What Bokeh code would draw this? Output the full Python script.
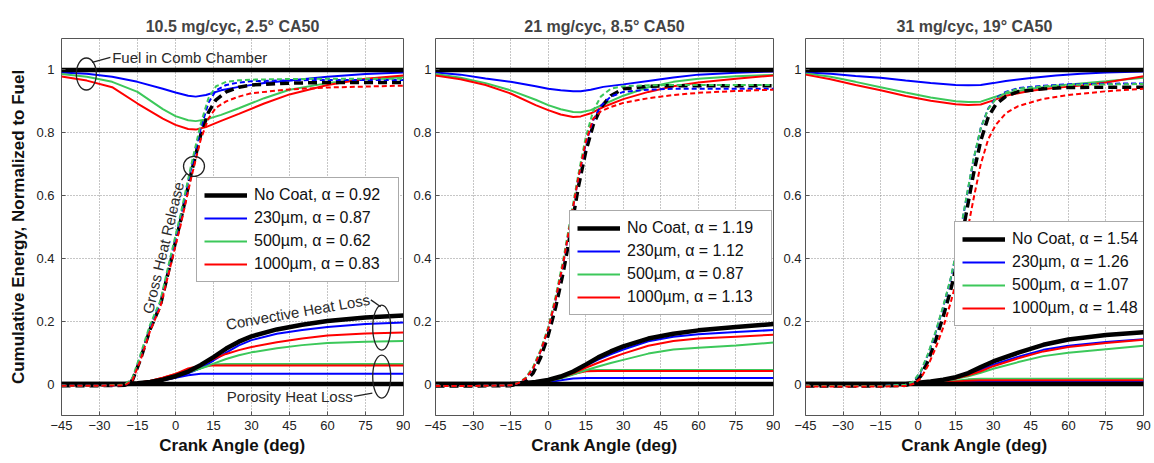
from bokeh.plotting import figure
from bokeh.layouts import row
from bokeh.models import Range1d, Legend, LegendItem, FixedTicker
from bokeh.core.properties import value
from bokeh.embed import file_html
from bokeh.resources import INLINE

FONT = "Liberation Sans"
C_NOCOAT = "#000000"
C_230 = "#0000FF"
C_500 = "#3CC85A"
C_1000 = "#FF0000"
CASE_COLORS = [C_NOCOAT, C_230, C_500, C_1000]

TITLES = ["10.5 mg/cyc, 2.5° CA50", "21 mg/cyc, 8.5° CA50", "31 mg/cyc, 19° CA50"]
X_TICKS = [-45, -30, -15, 0, 15, 30, 45, 60, 75, 90]
Y_TICKS = [0, 0.2, 0.4, 0.6, 0.8, 1]
Y_TICK_LABELS = ["0", "0.2", "0.4", "0.6", "0.8", "1"]
X_LABEL = "Crank Angle (deg)"
Y_LABEL = "Cumulative Energy, Normalized to Fuel"

LEGEND_P1 = ["No Coat, α = 0.92", "230µm, α = 0.87", "500µm, α = 0.62", "1000µm, α = 0.83"]
LEGEND_P2 = ["No Coat, α = 1.19", "230µm, α = 1.12", "500µm, α = 0.87", "1000µm, α = 1.13"]
LEGEND_P3 = ["No Coat, α = 1.54", "230µm, α = 1.26", "500µm, α = 1.07", "1000µm, α = 1.48"]

# fuel in combustion chamber, no coat
FUEL_CA = [-45, 90]
FUEL_NOCOAT = [1, 1]

# ---------------- Panel 1 ----------------
P1_GHR_CA = [-45, -30, -20, -17, -14, -10, -6, -2, 2, 6, 10, 13, 16, 20, 25, 30, 45, 60, 75, 90]
P1_GHR_NOCOAT = [-0.005, -0.005, -0.004, 0.012, 0.075, 0.175, 0.25, 0.385, 0.52, 0.665, 0.795, 0.865, 0.905, 0.93, 0.945, 0.952, 0.958, 0.96, 0.96, 0.96]
P1_GHR_230 = [-0.005, -0.005, -0.003, 0.016, 0.082, 0.182, 0.258, 0.395, 0.53, 0.68, 0.815, 0.895, 0.935, 0.952, 0.96, 0.964, 0.967, 0.968, 0.968, 0.968]
P1_GHR_500 = [-0.005, -0.005, -0.002, 0.02, 0.09, 0.19, 0.265, 0.405, 0.54, 0.69, 0.83, 0.91, 0.948, 0.962, 0.967, 0.969, 0.971, 0.972, 0.972, 0.972]
P1_GHR_1000 = [-0.005, -0.005, -0.004, 0.012, 0.072, 0.17, 0.245, 0.375, 0.505, 0.65, 0.78, 0.845, 0.88, 0.9, 0.915, 0.926, 0.938, 0.944, 0.947, 0.95]

P1_TOP_CA = [-45, -35, -25, -15, -5, 0, 5, 8, 12, 18, 25, 35, 45, 60, 75, 90]
P1_TOP_230 = [0.992, 0.988, 0.978, 0.962, 0.94, 0.928, 0.918, 0.915, 0.92, 0.935, 0.946, 0.958, 0.966, 0.978, 0.987, 0.992]
P1_TOP_500 = [0.987, 0.978, 0.962, 0.93, 0.875, 0.853, 0.84, 0.837, 0.842, 0.857, 0.878, 0.91, 0.937, 0.958, 0.97, 0.977]
P1_TOP_1000 = [0.979, 0.966, 0.945, 0.893, 0.845, 0.825, 0.812, 0.81, 0.818, 0.838, 0.86, 0.893, 0.922, 0.952, 0.972, 0.982]

P1_CONV_CA = [-45, -20, -15, -10, -5, 0, 5, 10, 15, 20, 25, 30, 40, 50, 60, 75, 90]
P1_CONV_NOCOAT = [0, 0, 0.003, 0.007, 0.014, 0.025, 0.04, 0.061, 0.086, 0.113, 0.135, 0.152, 0.174, 0.189, 0.201, 0.212, 0.218]
P1_CONV_230 = [0, 0, 0.003, 0.006, 0.012, 0.021, 0.034, 0.051, 0.075, 0.1, 0.123, 0.14, 0.16, 0.172, 0.182, 0.191, 0.196]
P1_CONV_500 = [0, 0, 0.003, 0.008, 0.016, 0.026, 0.037, 0.05, 0.065, 0.08, 0.092, 0.101, 0.114, 0.124, 0.131, 0.135, 0.137]
P1_CONV_1000 = [0, 0, 0.004, 0.01, 0.02, 0.032, 0.045, 0.06, 0.08, 0.096, 0.108, 0.118, 0.133, 0.145, 0.155, 0.161, 0.164]

P1_POR_CA = [-45, -20, -15, -10, -5, 0, 5, 10, 15, 20, 90]
P1_POR_NOCOAT = [0, 0, 0, 0, 0, 0, 0, 0, 0, 0, 0]
P1_POR_230 = [0, 0, 0.002, 0.006, 0.012, 0.02, 0.028, 0.033, 0.033, 0.033, 0.033]
P1_POR_500 = [0, 0, 0.003, 0.008, 0.016, 0.026, 0.038, 0.05, 0.062, 0.064, 0.064]
P1_POR_1000 = [0, 0, 0.004, 0.01, 0.02, 0.032, 0.05, 0.059, 0.059, 0.059, 0.059]

# ---------------- Panel 2 ----------------
P2_GHR_CA = [-45, -30, -15, -12, -9, -6, -3, 0, 3, 6, 9, 12, 15, 18, 21, 25, 30, 40, 50, 60, 75, 90]
P2_GHR_NOCOAT = [-0.006, -0.006, -0.005, 0.0, 0.01, 0.035, 0.085, 0.155, 0.245, 0.355, 0.485, 0.625, 0.74, 0.825, 0.88, 0.918, 0.94, 0.948, 0.95, 0.95, 0.95, 0.95]
P2_GHR_230 = [-0.006, -0.006, -0.004, 0.003, 0.018, 0.05, 0.105, 0.175, 0.27, 0.385, 0.52, 0.655, 0.765, 0.84, 0.885, 0.915, 0.93, 0.937, 0.94, 0.94, 0.94, 0.94]
P2_GHR_500 = [-0.006, -0.006, -0.004, 0.004, 0.02, 0.055, 0.11, 0.18, 0.28, 0.395, 0.53, 0.665, 0.785, 0.87, 0.915, 0.94, 0.948, 0.951, 0.952, 0.952, 0.952, 0.952]
P2_GHR_1000 = [-0.006, -0.006, -0.004, 0.003, 0.018, 0.05, 0.105, 0.175, 0.27, 0.385, 0.52, 0.655, 0.77, 0.845, 0.868, 0.882, 0.895, 0.91, 0.92, 0.927, 0.933, 0.937]

P2_TOP_CA = [-45, -35, -25, -15, -5, 0, 5, 10, 13, 17, 22, 30, 40, 50, 60, 75, 90]
P2_TOP_230 = [0.992, 0.985, 0.973, 0.962, 0.948, 0.94, 0.935, 0.932, 0.932, 0.937, 0.946, 0.954, 0.965, 0.976, 0.985, 0.991, 0.995]
P2_TOP_500 = [0.987, 0.975, 0.958, 0.935, 0.905, 0.888, 0.875, 0.866, 0.865, 0.872, 0.89, 0.918, 0.945, 0.962, 0.972, 0.98, 0.984]
P2_TOP_1000 = [0.982, 0.97, 0.952, 0.925, 0.888, 0.872, 0.858, 0.85, 0.852, 0.862, 0.882, 0.907, 0.93, 0.948, 0.96, 0.972, 0.982]

P2_CONV_CA = [-45, -15, -10, -5, 0, 5, 10, 15, 20, 25, 30, 40, 50, 60, 75, 90]
P2_CONV_NOCOAT = [0, 0, 0.003, 0.007, 0.013, 0.024, 0.04, 0.062, 0.085, 0.104, 0.12, 0.145, 0.16, 0.171, 0.182, 0.191]
P2_CONV_230 = [0, 0, 0.003, 0.006, 0.012, 0.022, 0.037, 0.058, 0.078, 0.095, 0.11, 0.136, 0.151, 0.159, 0.166, 0.172]
P2_CONV_500 = [0, 0, 0.003, 0.006, 0.011, 0.018, 0.03, 0.044, 0.056, 0.067, 0.077, 0.097, 0.11, 0.116, 0.123, 0.132]
P2_CONV_1000 = [0, 0, 0.003, 0.006, 0.012, 0.02, 0.034, 0.052, 0.068, 0.083, 0.097, 0.122, 0.137, 0.145, 0.151, 0.157]

P2_POR_CA = [-45, -10, -5, 0, 5, 10, 15, 20, 90]
P2_POR_NOCOAT = [0, 0, 0, 0, 0, 0, 0, 0, 0]
P2_POR_230 = [0, 0, 0.002, 0.006, 0.012, 0.018, 0.019, 0.019, 0.019]
P2_POR_500 = [0, 0, 0.003, 0.01, 0.02, 0.032, 0.043, 0.045, 0.045]
P2_POR_1000 = [0, 0, 0.003, 0.01, 0.02, 0.032, 0.041, 0.042, 0.042]

# ---------------- Panel 3 ----------------
P3_GHR_CA = [-45, -15, -5, -2, 1, 4, 7, 10, 13, 16, 19, 22, 25, 28, 31, 35, 40, 50, 60, 75, 90]
P3_GHR_NOCOAT = [-0.006, -0.006, -0.004, 0.002, 0.025, 0.075, 0.14, 0.215, 0.3, 0.4, 0.535, 0.665, 0.775, 0.85, 0.89, 0.916, 0.931, 0.94, 0.944, 0.945, 0.945]
P3_GHR_230 = [-0.006, -0.006, -0.002, 0.007, 0.038, 0.095, 0.165, 0.245, 0.335, 0.445, 0.58, 0.71, 0.815, 0.878, 0.91, 0.93, 0.942, 0.95, 0.954, 0.956, 0.957]
P3_GHR_500 = [-0.006, -0.006, -0.002, 0.008, 0.04, 0.098, 0.168, 0.248, 0.338, 0.448, 0.583, 0.712, 0.815, 0.876, 0.907, 0.928, 0.94, 0.948, 0.952, 0.954, 0.955]
P3_GHR_1000 = [-0.008, -0.008, -0.006, 0.0, 0.018, 0.06, 0.115, 0.18, 0.26, 0.35, 0.46, 0.585, 0.7, 0.78, 0.825, 0.862, 0.885, 0.908, 0.92, 0.932, 0.94]

P3_TOP_CA = [-45, -35, -25, -15, -5, 5, 15, 20, 25, 30, 35, 45, 55, 65, 75, 90]
P3_TOP_230 = [0.992, 0.988, 0.981, 0.975, 0.966, 0.958, 0.952, 0.951, 0.952, 0.958, 0.965, 0.974, 0.982, 0.988, 0.992, 0.995]
P3_TOP_500 = [0.989, 0.978, 0.962, 0.945, 0.928, 0.912, 0.9, 0.898, 0.899, 0.912, 0.925, 0.94, 0.95, 0.957, 0.964, 0.975]
P3_TOP_1000 = [0.985, 0.97, 0.952, 0.935, 0.917, 0.902, 0.891, 0.888, 0.89, 0.903, 0.918, 0.934, 0.943, 0.95, 0.96, 0.98]

P3_CONV_CA = [-45, -5, 0, 5, 10, 15, 20, 25, 30, 40, 50, 60, 75, 90]
P3_CONV_NOCOAT = [0, 0, 0.004, 0.008, 0.014, 0.022, 0.035, 0.054, 0.072, 0.1, 0.125, 0.142, 0.156, 0.165]
P3_CONV_230 = [0, 0, 0.003, 0.007, 0.012, 0.019, 0.03, 0.045, 0.062, 0.087, 0.109, 0.122, 0.134, 0.143]
P3_CONV_500 = [0, 0, 0.003, 0.006, 0.011, 0.017, 0.025, 0.036, 0.049, 0.07, 0.089, 0.1, 0.111, 0.122]
P3_CONV_1000 = [0, 0, 0.003, 0.007, 0.012, 0.018, 0.028, 0.041, 0.057, 0.082, 0.104, 0.118, 0.131, 0.141]

P3_POR_CA = [-45, 0, 5, 10, 15, 20, 25, 90]
P3_POR_NOCOAT = [0, 0, 0, 0, 0, 0, 0, 0]
P3_POR_230 = [0, 0, 0.002, 0.004, 0.006, 0.008, 0.008, 0.008]
P3_POR_500 = [0, 0, 0.003, 0.007, 0.011, 0.015, 0.017, 0.017]
P3_POR_1000 = [0, 0, 0.002, 0.005, 0.008, 0.011, 0.012, 0.012]

# ---------------- Annotations (panel 1) ----------------
ANN_TEXT = ["Fuel in Comb Chamber", "Gross Heat Release", "Convective Heat Loss", "Porosity Heat Loss"]
ANN_TEXT_X = [-25.0, -4.9, 48.3, 45.1]
ANN_TEXT_Y = [1.038, 0.434, 0.23, -0.039]
ANN_TEXT_ANGLE_DEG = [0, 76.5, 10, 0]
ANN_TEXT_ALIGN = ["left", "center", "center", "center"]
ANN_ELL_X = [-35.2, 7.3, 81.4, 81.4]
ANN_ELL_Y = [0.987, 0.693, 0.18, 0.024]
ANN_ELL_W = [20, 21, 18, 18]
ANN_ELL_H = [32, 20, 45, 43]
ANN_LEAD_X = [[-32.9, -25.7], [2.4, 4.4], [77.1, 81.0], [70.5, 77.7]]
ANN_LEAD_Y = [[1.024, 1.040], [0.649, 0.671], [0.268, 0.246], [-0.039, -0.029]]

PANELS = [
    dict(ghr_ca=P1_GHR_CA, ghr=[P1_GHR_NOCOAT, P1_GHR_230, P1_GHR_500, P1_GHR_1000],
         top_ca=P1_TOP_CA, top=[P1_TOP_230, P1_TOP_500, P1_TOP_1000],
         conv_ca=P1_CONV_CA, conv=[P1_CONV_NOCOAT, P1_CONV_230, P1_CONV_500, P1_CONV_1000],
         por_ca=P1_POR_CA, por=[P1_POR_NOCOAT, P1_POR_230, P1_POR_500, P1_POR_1000],
         legend=LEGEND_P1, leg_loc=(135, 133), width=410, bl=61, br=7),
    dict(ghr_ca=P2_GHR_CA, ghr=[P2_GHR_NOCOAT, P2_GHR_230, P2_GHR_500, P2_GHR_1000],
         top_ca=P2_TOP_CA, top=[P2_TOP_230, P2_TOP_500, P2_TOP_1000],
         conv_ca=P2_CONV_CA, conv=[P2_CONV_NOCOAT, P2_CONV_230, P2_CONV_500, P2_CONV_1000],
         por_ca=P2_POR_CA, por=[P2_POR_NOCOAT, P2_POR_230, P2_POR_500, P2_POR_1000],
         legend=LEGEND_P2, leg_loc=(134, 100), width=370, bl=22, br=7),
    dict(ghr_ca=P3_GHR_CA, ghr=[P3_GHR_NOCOAT, P3_GHR_230, P3_GHR_500, P3_GHR_1000],
         top_ca=P3_TOP_CA, top=[P3_TOP_230, P3_TOP_500, P3_TOP_1000],
         conv_ca=P3_CONV_CA, conv=[P3_CONV_NOCOAT, P3_CONV_230, P3_CONV_500, P3_CONV_1000],
         por_ca=P3_POR_CA, por=[P3_POR_NOCOAT, P3_POR_230, P3_POR_500, P3_POR_1000],
         legend=LEGEND_P3, leg_loc=(149, 89), width=374, bl=22, br=11),
]


def make_panel(i, d):
    p = figure(width=d["width"], height=463, output_backend="svg", toolbar_location=None,
               x_range=Range1d(-45, 90), y_range=Range1d(-0.1, 1.1),
               min_border_left=d["bl"], min_border_right=d["br"],
               min_border_top=38, min_border_bottom=48)
    p.title.text = TITLES[i]
    p.title.align = "center"
    p.title.text_font = FONT
    p.title.text_font_size = "16px"
    p.title.text_font_style = "bold"
    p.title.standoff = 8
    p.outline_line_color = "#555555"
    p.outline_line_width = 1
    p.background_fill_color = "white"
    p.border_fill_color = "white"

    for ax in (p.xaxis[0], p.yaxis[0]):
        ax.axis_line_color = None
        ax.major_tick_in = 4
        ax.major_tick_out = 0
        ax.major_tick_line_color = "#555555"
        ax.minor_tick_line_color = None
        ax.major_label_text_font = FONT
        ax.major_label_text_font_size = "13px"
        ax.major_label_text_color = "#222222"
        ax.axis_label_text_font = FONT
        ax.axis_label_text_font_size = "17px"
        ax.axis_label_text_font_style = "bold"
        ax.axis_label_text_color = "#111111"
    p.xaxis.ticker = FixedTicker(ticks=X_TICKS)
    p.yaxis.ticker = FixedTicker(ticks=Y_TICKS)
    p.yaxis.major_label_overrides = dict(zip(Y_TICKS, Y_TICK_LABELS))
    p.xaxis.major_label_standoff = 5
    p.yaxis.major_label_standoff = 7 if i == 0 else 4
    p.xaxis.axis_label = X_LABEL
    p.xaxis.axis_label_standoff = 3
    if i == 0:
        p.yaxis.axis_label = Y_LABEL
        p.yaxis.axis_label_standoff = 5
    p.grid.grid_line_color = "#8c8c8c"
    p.grid.grid_line_dash = "1 2"
    p.grid.grid_line_width = 1

    # porosity & convective heat loss (coated)
    for k in (1, 2, 3):
        p.line(d["por_ca"], d["por"][k], line_color=CASE_COLORS[k], line_width=2)
    leg_r = [None, None, None, None]
    for k in (1, 2, 3):
        leg_r[k] = p.line(d["conv_ca"], d["conv"][k], line_color=CASE_COLORS[k], line_width=2)
    # fuel remaining (coated)
    for k in (1, 2, 3):
        p.line(d["top_ca"], d["top"][k - 1], line_color=CASE_COLORS[k], line_width=2)
    # no coat thick black
    p.line(FUEL_CA, FUEL_NOCOAT, line_color=C_NOCOAT, line_width=4.5)
    p.line(d["por_ca"], d["por"][0], line_color=C_NOCOAT, line_width=4.5)
    leg_r[0] = p.line(d["conv_ca"], d["conv"][0], line_color=C_NOCOAT, line_width=4.5)
    # gross heat release (dashed)
    p.line(d["ghr_ca"], d["ghr"][0], line_color=C_NOCOAT, line_width=3.5, line_dash="9 5")
    for k in (1, 2, 3):
        p.line(d["ghr_ca"], d["ghr"][k], line_color=CASE_COLORS[k], line_width=2, line_dash="5 3")

    items = [LegendItem(label=lab, renderers=[r]) for lab, r in zip(d["legend"], leg_r)]
    leg = Legend(items=items, location=d["leg_loc"], margin=0, padding=7, spacing=3,
                 glyph_width=43, glyph_height=20, label_height=20, label_standoff=7,
                 label_width=137,
                 label_text_font=FONT, label_text_font_size="16px", label_text_color="#111111",
                 border_line_color="#555555", border_line_width=1,
                 background_fill_color="white", background_fill_alpha=1)
    p.add_layout(leg)

    if i == 0:
        for j in range(4):
            p.ellipse(x=[ANN_ELL_X[j]], y=[ANN_ELL_Y[j]], width=ANN_ELL_W[j], height=ANN_ELL_H[j],
                      width_units="screen", height_units="screen",
                      fill_color=None, line_color="#222222", line_width=1.3)
            p.line(ANN_LEAD_X[j], ANN_LEAD_Y[j], line_color="#222222", line_width=1.3)
            p.text(x=[ANN_TEXT_X[j]], y=[ANN_TEXT_Y[j]], text=[ANN_TEXT[j]],
                   angle=ANN_TEXT_ANGLE_DEG[j], angle_units="deg",
                   text_align=ANN_TEXT_ALIGN[j], text_baseline="middle",
                   text_font=value(FONT), text_font_size="15px", text_color="#2a2a2a")
    return p


figs = [make_panel(i, d) for i, d in enumerate(PANELS)]
layout = row(*figs, spacing=0)
open("out.html", "w").write(file_html(layout, INLINE))
